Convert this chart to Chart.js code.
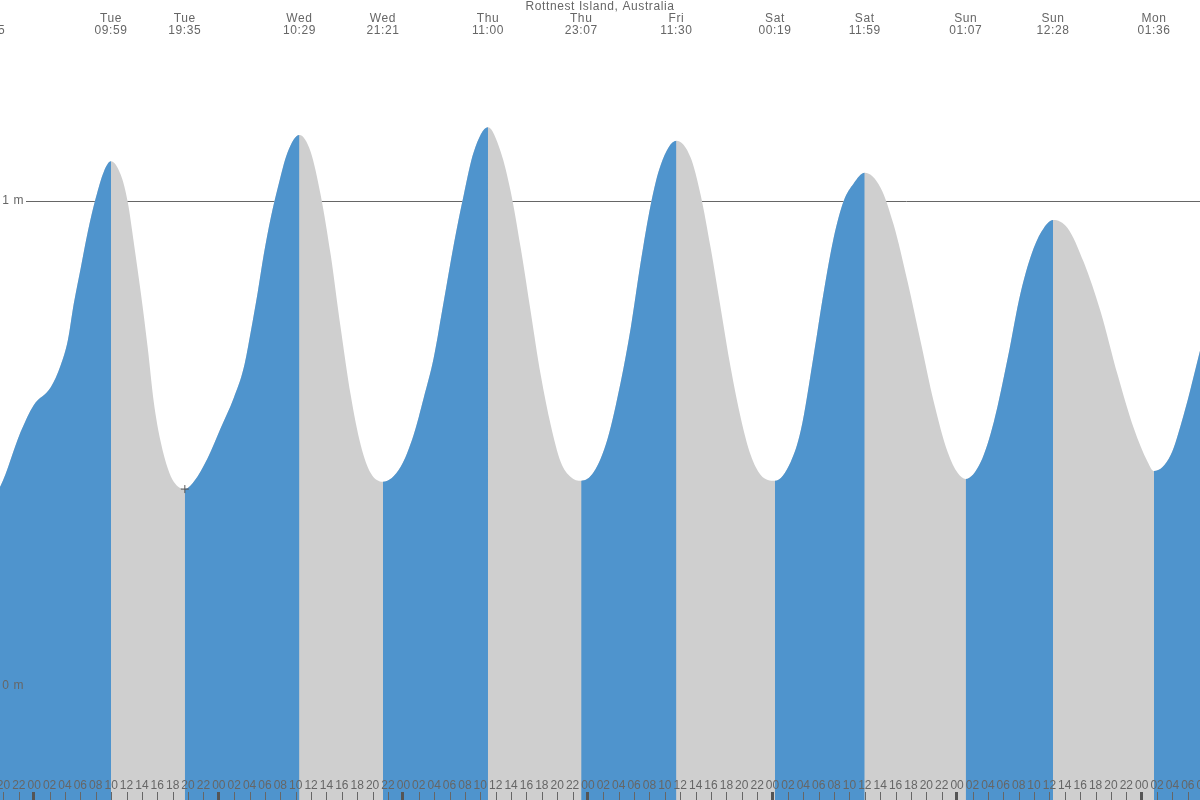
<!DOCTYPE html>
<html>
<head>
<meta charset="utf-8">
<title>Rottnest Island tides</title>
<script src="https://cdn.jsdelivr.net/npm/chart.js@4.4.0/dist/chart.umd.min.js"></script>
<style>
  html, body { margin: 0; padding: 0; background: #fff; }
  canvas { display: block; }
</style>
</head>
<body>
<canvas id="tide" width="1200" height="800"></canvas>
<script>
// time axis is in hours counted from Tue 00:00
const dayOrder = ['Mon', 'Tue', 'Wed', 'Thu', 'Fri', 'Sat', 'Sun', 'Mon'];

// high and low tides
const extremeDays   = ['Mon', 'Tue', 'Tue', 'Wed', 'Wed', 'Thu', 'Thu', 'Fri', 'Sat', 'Sat', 'Sun', 'Sun', 'Mon'];
const extremeTimes  = ['18:05', '09:59', '19:35', '10:29', '21:21', '11:00', '23:07', '11:30', '00:19', '11:59', '01:07', '12:28', '01:36'];
const extremeLevels = [0.385, 1.082, 0.406, 1.136, 0.421, 1.152, 0.423, 1.124, 0.423, 1.058, 0.427, 0.961, 0.443];

// levels read between the extremes (hours, metres)
const readHours = [
  -4.40, -1.76, -0.07, 2.15, 3.45, 4.36, 5.14, 6.05, 6.96, 8.00, 9.04,
  11.25, 12.16, 12.94, 13.85, 14.76, 15.54, 16.45, 17.36, 18.14,
  20.74, 22.56, 24.25, 25.94, 27.24, 28.15, 29.06, 29.84, 30.75, 31.66, 32.96,
  35.95, 37.25, 38.55, 39.85, 41.15, 42.45, 43.75,
  47.65, 49.34, 50.64, 51.94, 53.24, 54.54, 55.84, 57.15,
  60.66, 61.96, 63.26, 64.56, 65.86, 67.16, 68.46, 69.76,
  72.75, 74.57, 76.26, 77.56, 78.86, 80.16, 81.46,
  85.36, 86.66, 87.96, 89.26, 90.56, 91.86, 93.16, 94.46,
  98.36, 99.66, 101.35, 102.65, 103.95, 105.25, 106.55,
  110.06, 111.75, 113.57, 115.27, 116.96, 118.78, 120.08,
  123.07, 124.76, 126.58, 128.27, 129.96, 131.26,
  134.38, 136.46, 138.67, 140.88, 142.96, 144.78,
  147.77, 149.46, 151.67
];
const readLevels = [
  0.412, 0.524, 0.579, 0.616, 0.662, 0.712, 0.788, 0.862, 0.936, 1.006, 1.060,
  1.054, 0.998, 0.915, 0.812, 0.697, 0.586, 0.503, 0.449, 0.421,
  0.421, 0.470, 0.532, 0.594, 0.656, 0.730, 0.812, 0.889, 0.965, 1.027, 1.101,
  1.101, 1.012, 0.889, 0.738, 0.600, 0.497, 0.439,
  0.452, 0.518, 0.594, 0.676, 0.792, 0.909, 1.012, 1.101,
  1.101, 1.019, 0.903, 0.771, 0.641, 0.538, 0.462, 0.431,
  0.441, 0.511, 0.627, 0.738, 0.874, 0.992, 1.074,
  1.089, 1.012, 0.903, 0.779, 0.656, 0.553, 0.476, 0.435,
  0.462, 0.526, 0.682, 0.812, 0.924, 1.000, 1.036,
  1.027, 0.951, 0.833, 0.709, 0.586, 0.482, 0.439,
  0.462, 0.544, 0.676, 0.812, 0.903, 0.944,
  0.944, 0.874, 0.771, 0.641, 0.532, 0.462,
  0.476, 0.559, 0.697
];

const yTicks = [0, 1];
const yTickLabels = ['0 m', '1 m'];
const cursorIndex = 2; // Tue 19:35 low has the + marker

const X_MIN = -4.45, X_MAX = 151.58;
const Y_MIN = -0.2351, Y_MAX = 1.4144;

const RISE = '#4f94cd';
const FALL = '#cfcfcf';
const TEXT = '#666';
const FONT = '"Liberation Sans", Arial, sans-serif';

// turn day + time into hours
let d = 0;
const extremeHours = extremeDays.map((day, i) => {
  while (dayOrder[d] !== day) d++;
  const [hh, mm] = extremeTimes[i].split(':').map(Number);
  return (d - 1) * 24 + hh + mm / 60;
});

const points = [];
readHours.forEach((h, i) => points.push({x: h, y: readLevels[i]}));
extremeHours.forEach((h, i) => points.push({x: h, y: extremeLevels[i]}));
points.sort((a, b) => a.x - b.x);

function pad(n) {
  return String(n).padStart(2, '0');
}

const tideText = {
  id: 'tideText',
  beforeDatasetsDraw(chart) {
    const {ctx, chartArea, scales: {y}} = chart;
    ctx.save();
    ctx.strokeStyle = TEXT;
    ctx.lineWidth = 1;
    yTicks.forEach(v => {
      const py = Math.round(y.getPixelForValue(v)) + 0.5;
      ctx.beginPath();
      ctx.moveTo(26, py);
      ctx.lineTo(chartArea.right, py);
      ctx.stroke();
    });
    ctx.restore();
  },
  afterDatasetsDraw(chart) {
    const {ctx, chartArea, scales: {x, y}} = chart;
    ctx.save();
    ctx.fillStyle = TEXT;
    ctx.textBaseline = 'middle';

    // y labels
    ctx.font = '12px ' + FONT;
    ctx.letterSpacing = '0.6px';
    ctx.textAlign = 'right';
    yTicks.forEach((v, i) => {
      ctx.fillText(yTickLabels[i], 24, y.getPixelForValue(v));
    });

    // title and extreme labels
    ctx.textAlign = 'center';
    ctx.fillText('Rottnest Island, Australia', (chartArea.left + chartArea.right) / 2, 7);
    extremeHours.forEach((h, i) => {
      const px = x.getPixelForValue(h);
      ctx.fillText(extremeDays[i], px, 19);
      ctx.fillText(extremeTimes[i], px, 31);
    });

    // hour ticks along the bottom
    ctx.letterSpacing = '0px';
    for (let h = -6; h <= 154; h += 2) {
      const px = x.getPixelForValue(h);
      const hour = ((h % 24) + 24) % 24;
      ctx.fillStyle = TEXT;
      ctx.fillText(pad(hour), px, 786);
      if (hour === 0) {
        ctx.fillStyle = '#555';
        ctx.fillRect(Math.round(px) - 2, 792, 3, 8);
      } else {
        ctx.fillStyle = '#666';
        ctx.fillRect(Math.round(px), 792, 1, 8);
      }
    }
    ctx.restore();
  }
};

new Chart(document.getElementById('tide'), {
  type: 'line',
  data: {
    datasets: [{
      // + marker
      data: [{x: extremeHours[cursorIndex], y: extremeLevels[cursorIndex]}],
      showLine: false,
      pointStyle: 'cross',
      pointRadius: 4,
      borderColor: '#555',
      borderWidth: 1,
      order: 0
    }, {
      // rising tide in blue, on top
      data: points,
      fill: 'start',
      borderWidth: 0,
      borderColor: 'rgba(0,0,0,0)',
      backgroundColor: RISE,
      pointRadius: 0,
      cubicInterpolationMode: 'monotone',
      segment: {
        backgroundColor: c => c.p1.parsed.y >= c.p0.parsed.y ? RISE : 'rgba(0,0,0,0)'
      },
      order: 1
    }, {
      // whole area in grey underneath (falling tide shows through)
      data: points,
      fill: 'start',
      borderWidth: 0,
      borderColor: 'rgba(0,0,0,0)',
      backgroundColor: FALL,
      pointRadius: 0,
      cubicInterpolationMode: 'monotone',
      order: 2
    }]
  },
  plugins: [tideText],
  options: {
    animation: false,
    responsive: false,
    maintainAspectRatio: false,
    layout: { padding: 0, autoPadding: false },
    plugins: {
      legend: { display: false },
      tooltip: { enabled: false }
    },
    scales: {
      x: { type: 'linear', min: X_MIN, max: X_MAX, display: false },
      y: { type: 'linear', min: Y_MIN, max: Y_MAX, display: false }
    }
  }
});
</script>
</body>
</html>
